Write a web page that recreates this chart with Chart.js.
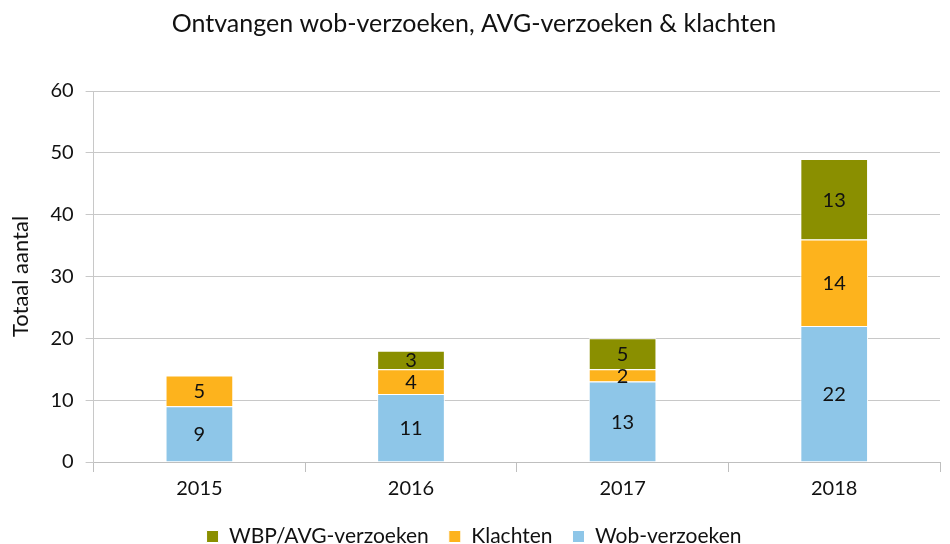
<!DOCTYPE html>
<html>
<head>
<meta charset="utf-8">
<script src="https://cdn.jsdelivr.net/npm/chart.js@4/dist/chart.umd.min.js"></script>
<style>
  html, body { margin: 0; padding: 0; background: #fff; }
  #wrap { width: 950px; height: 544px; }
</style>
</head>
<body>
<div id="wrap"><canvas id="verzoeken_chart"></canvas></div>
<script>
var jaren = ['2015', '2016', '2017', '2018'];
var wobVerzoeken = [9, 11, 13, 22];
var klachten = [5, 4, 2, 14];
var wbpAvgVerzoeken = [0, 3, 5, 13];

var fontFamily = "Lato, 'Open Sans', sans-serif";

// labels in the middle of each bar segment
var segmentLabels = {
    id: 'segmentLabels',
    afterDatasetsDraw: function (chart) {
        var ctx = chart.ctx;
        ctx.save();
        ctx.font = "20px " + fontFamily;
        ctx.fillStyle = '#111';
        ctx.textAlign = 'center';
        ctx.textBaseline = 'middle';
        chart.data.datasets.forEach(function (ds, i) {
            var meta = chart.getDatasetMeta(i);
            meta.data.forEach(function (bar, j) {
                var v = ds.data[j];
                if (!v) return;
                ctx.fillText(v, bar.x, (bar.y + bar.base) / 2 + 1);
            });
        });
        ctx.restore();
    }
};

var ctx = document.getElementById('verzoeken_chart').getContext('2d');
var verzoekenChart = new Chart(ctx, {
    type: 'bar',
    data: {
        labels: jaren,
        datasets: [{
            label: 'Wob-verzoeken',
            data: wobVerzoeken,
            backgroundColor: '#8EC6E8',
            borderColor: '#ffffff',
            borderWidth: 1
        }, {
            label: 'Klachten',
            data: klachten,
            backgroundColor: '#FDB31D',
            borderColor: '#ffffff',
            borderWidth: 1
        }, {
            label: 'WBP/AVG-verzoeken',
            data: wbpAvgVerzoeken,
            backgroundColor: '#8A8F00',
            borderColor: '#ffffff',
            borderWidth: 1
        }]
    },
    plugins: [segmentLabels],
    options: {
        responsive: true,
        maintainAspectRatio: false,
        animation: false,
        barPercentage: 0.64,
        categoryPercentage: 0.5,
        layout: { padding: { left: 8, right: 10, top: 0, bottom: -13 } },
        plugins: {
            title: {
                display: true,
                text: 'Ontvangen wob-verzoeken, AVG-verzoeken & klachten',
                color: '#111',
                font: { family: fontFamily, size: 25, weight: 'normal' },
                padding: { top: 9, bottom: 52 }
            },
            legend: {
                position: 'bottom',
                reverse: true,
                labels: {
                    color: '#111',
                    font: { family: fontFamily, size: 21 },
                    boxWidth: 12,
                    boxHeight: 12,
                    padding: 20
                }
            },
            tooltip: { enabled: false }
        },
        scales: {
            x: {
                stacked: true,
                grid: {
                    display: true,
                    offset: true,
                    drawOnChartArea: false,
                    tickLength: 10,
                    color: '#bfbfbf'
                },
                border: { color: '#bfbfbf' },
                ticks: {
                    color: '#111',
                    font: { family: fontFamily, size: 20 },
                    padding: 5
                }
            },
            y: {
                stacked: true,
                min: 0,
                max: 60,
                ticks: {
                    stepSize: 10,
                    color: '#111',
                    font: { family: fontFamily, size: 20 },
                    padding: 12
                },
                grid: {
                    color: '#c8c8c8',
                    tickLength: 8
                },
                border: { color: '#c8c8c8' },
                title: {
                    display: true,
                    text: 'Totaal aantal',
                    color: '#111',
                    font: { family: fontFamily, size: 22 },
                    padding: { top: 0, bottom: 4 }
                }
            }
        }
    }
});
</script>
</body>
</html>
